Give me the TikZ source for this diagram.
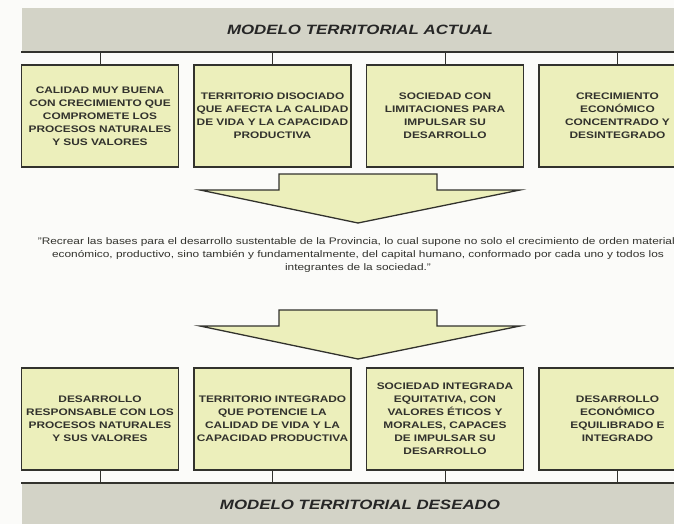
\documentclass[tikz,border=0pt]{standalone}
\usepackage{fontspec}
\setmainfont{Liberation Sans}[FakeStretch=1.25]
\begin{document}
\begin{tikzpicture}[x=1pt, y=-1pt,
    box/.style={draw=boxedge, fill=boxfill, line width=1.6pt, minimum height=102pt, inner sep=0pt, text width=157pt, align=center, font=\fontsize{9.5}{13}\selectfont\bfseries, text=textgray},
    banner/.style={fill=bannergray, minimum width=677pt, minimum height=44pt, inner sep=0pt, font=\fontsize{13.5}{16}\selectfont\bfseries\itshape, text=black!85},
    bannerline/.style={draw=boxedge, line width=1.6pt},
    tick/.style={draw=boxedge, line width=0.9pt},
    bigarrow/.style={draw=boxedge, fill=boxfill, line width=1.3pt, line join=miter},
    quote/.style={align=center, font=\fontsize{9.5}{12.7}\selectfont, text=textgray},
  ]

\definecolor{boxfill}{RGB}{236,239,187}
\definecolor{bannergray}{RGB}{211,211,199}
\definecolor{boxedge}{RGB}{50,50,45}
\definecolor{textgray}{RGB}{50,50,45}
\definecolor{paper}{RGB}{251,251,249}

%page
\clip (0,0) rectangle (674,524);
\fill[paper] (0,0) rectangle (674,524);

%modelo actual
\node[banner] (actual) at (360,30) {MODELO TERRITORIAL ACTUAL};
\draw[bannerline] (actual.south west) -- (actual.south east);

\node[box] (a1) at (100,116) {CALIDAD MUY BUENA\\CON CRECIMIENTO QUE\\COMPROMETE LOS\\PROCESOS NATURALES\\Y SUS VALORES};
\node[box] (a2) at (272.5,116) {TERRITORIO DISOCIADO\\QUE AFECTA LA CALIDAD\\DE VIDA Y LA CAPACIDAD\\PRODUCTIVA};
\node[box] (a3) at (445,116) {SOCIEDAD CON\\LIMITACIONES PARA\\IMPULSAR SU\\DESARROLLO};
\node[box] (a4) at (617.5,116) {CRECIMIENTO\\ECONÓMICO\\CONCENTRADO Y\\DESINTEGRADO};

\foreach \i in {1,...,4}
  \draw[tick] (a\i.north) -- (a\i.north |- actual.south);

%arrows
\foreach \y in {174,310}
{
  \draw[bigarrow] (279,\y) -- (437,\y) -- (437,{\y+16}) -- (520,{\y+16}) -- (358,{\y+49})
    -- (200,{\y+16}) -- (279,{\y+16}) -- cycle;
}

%cita
\node[quote] (cita) at (358,255) {"Recrear las bases para el desarrollo sustentable de la Provincia, lo cual supone no solo el crecimiento de orden material,\\económico, productivo, sino también y fundamentalmente, del capital humano, conformado por cada uno y todos los\\integrantes de la sociedad."};

%modelo deseado
\node[box] (d1) at (100,419) {DESARROLLO\\RESPONSABLE CON LOS\\PROCESOS NATURALES\\Y SUS VALORES};
\node[box] (d2) at (272.5,419) {TERRITORIO INTEGRADO\\QUE POTENCIE LA\\CALIDAD DE VIDA Y LA\\CAPACIDAD PRODUCTIVA};
\node[box] (d3) at (445,419) {SOCIEDAD INTEGRADA\\EQUITATIVA, CON\\VALORES ÉTICOS Y\\MORALES, CAPACES\\DE IMPULSAR SU\\DESARROLLO};
\node[box] (d4) at (617.5,419) {DESARROLLO\\ECONÓMICO\\EQUILIBRADO E\\INTEGRADO};

\node[banner] (deseado) at (360,505) {MODELO TERRITORIAL DESEADO};
\draw[bannerline] (deseado.north west) -- (deseado.north east);

\foreach \i in {1,...,4}
  \draw[tick] (d\i.south) -- (d\i.south |- deseado.north);

\end{tikzpicture}
\end{document}
